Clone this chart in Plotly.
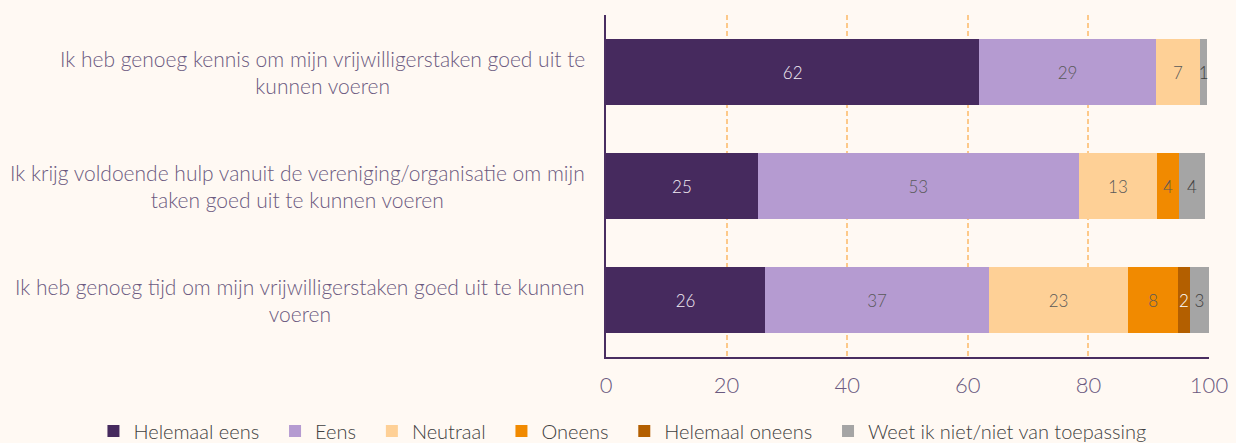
import plotly.graph_objects as go

# Survey statements (top to bottom)
statements = [
    "Ik heb genoeg kennis om mijn vrijwilligerstaken goed uit te<br>kunnen voeren",
    "Ik krijg voldoende hulp vanuit de vereniging/organisatie om mijn<br>taken goed uit te kunnen voeren",
    "Ik heb genoeg tijd om mijn vrijwilligerstaken goed uit te kunnen<br>voeren",
]

# Answer categories and percentages per statement
answers = ["Helemaal eens", "Eens", "Neutraal", "Oneens", "Helemaal oneens",
           "Weet ik niet/niet van toepassing"]
helemaal_eens = [61.9, 25.2, 26.4]
eens = [29.3, 53.2, 37.1]
neutraal = [7.3, 13.0, 23.1]
oneens = [0, 3.6, 8.3]
helemaal_oneens = [0, 0, 1.9]
weet_niet = [1.2, 4.4, 3.2]

series = [helemaal_eens, eens, neutraal, oneens, helemaal_oneens, weet_niet]
colors = ["#462a5e", "#b59bd1", "#fed096", "#f18a00", "#b35f00", "#a5a5a5"]
text_colors = ["#f2ecf4", "#595959", "#595959", "#595959", "#ffffff", "#404040"]

BG = "#fff9f3"
AXIS_COLOR = "#4a2e61"
LABEL_COLOR = "#6b5a80"
PAD = "\u00a0\u00a0"  # a little extra room between legend entries

fig = go.Figure()

for name, vals, col, tcol in zip(answers, series, colors, text_colors):
    labels = [f"{round(v)}" if v > 0 else "" for v in vals]
    fig.add_trace(go.Bar(
        y=list(range(len(statements))),
        x=vals,
        name=name + PAD,
        orientation="h",
        marker=dict(color=col, line=dict(width=0)),
        text=labels,
        textposition="inside",
        insidetextanchor="middle",
        textangle=0,
        textfont=dict(family="Lato", size=17, color=tcol, weight=300),
        width=0.585,
    ))

# statement labels, centred per line, right edge next to the axis
for i, s in enumerate(statements):
    fig.add_annotation(
        x=-0.0315, xref="paper", y=i, yref="y",
        text=s, showarrow=False, xanchor="right", yanchor="middle",
        align="center",
        font=dict(family="Lato", size=21, color=LABEL_COLOR, weight=300),
    )

fig.update_layout(
    width=1236,
    height=443,
    barmode="stack",
    paper_bgcolor=BG,
    plot_bgcolor=BG,
    margin=dict(l=606, r=27, t=15, b=86, autoexpand=False),
    font=dict(family="Lato", color="#404040"),
    uniformtext=dict(minsize=17, mode="show"),
    legend=dict(
        orientation="h",
        x=-0.850, xanchor="left",
        y=-0.2164, yanchor="middle",
        font=dict(family="Lato", size=20, color="#404040", weight=300),
        bgcolor="rgba(0,0,0,0)",
        traceorder="normal",
        itemwidth=30,
    ),
    xaxis=dict(
        range=[0, 100],
        tickvals=[0, 20, 40, 60, 80, 100],
        tickfont=dict(family="Lato", size=22, color=LABEL_COLOR, weight=300),
        showgrid=True,
        gridcolor="#fdc98a",
        griddash="5px,3px",
        gridwidth=1.5,
        showline=True,
        linecolor=AXIS_COLOR,
        linewidth=2,
        zeroline=False,
        ticks="",
        ticklabelstandoff=8,
    ),
    yaxis=dict(
        range=[2.5, -0.5],
        showticklabels=False,
        showgrid=False,
        showline=True,
        linecolor=AXIS_COLOR,
        linewidth=2,
        zeroline=False,
        ticks="",
    ),
)

fig.write_html(
    "out.html",
    config={"displayModeBar": False},
    post_script="document.body.style.margin='0';"
                "document.body.style.background='" + BG + "';",
)
